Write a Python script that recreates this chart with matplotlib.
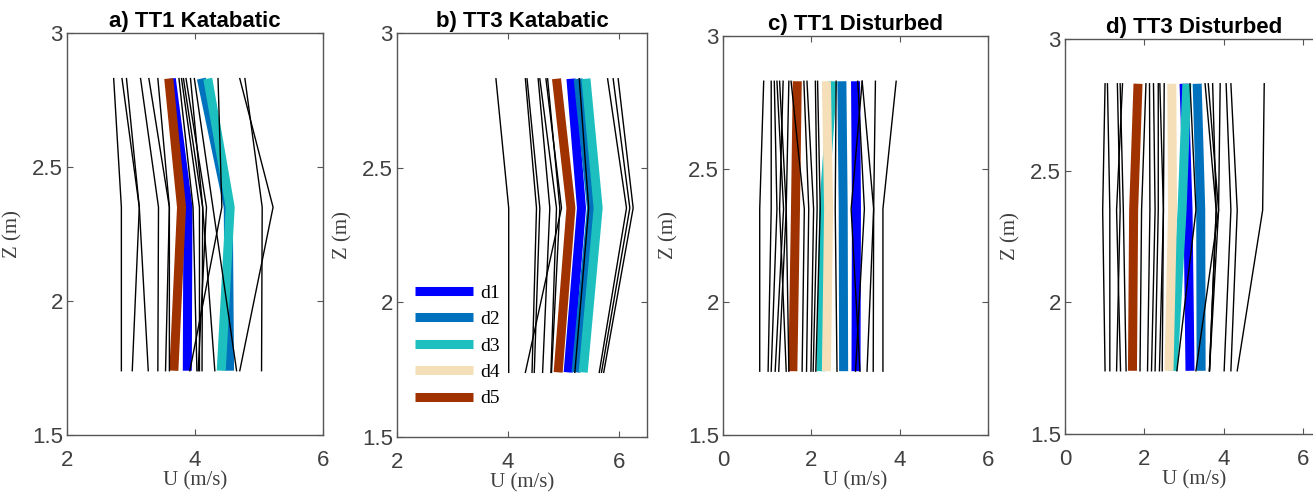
import matplotlib
matplotlib.use("Agg")
import matplotlib.pyplot as plt
from matplotlib.lines import Line2D

# measurement heights (m)
z = [1.74, 2.35, 2.83]

# day labels and colours of the highlighted profiles
days = ['d1', 'd2', 'd3', 'd4', 'd5']
day_colors = ['#0000ff', '#0072bd', '#1ebfbf', '#f5dfb8', '#a03200']

# wind speed profiles U(z), values at z[0], z[1], z[2]
a_runs = [[2.85, 2.85, 2.73], [3.02, 3.13, 2.86], [3.27, 3.13, 2.93],
          [3.42, 3.43, 3.15], [3.54, 3.60, 3.28], [3.60, 3.60, 3.42],
          [4.03, 3.97, 3.75], [4.07, 4.07, 3.79], [4.11, 4.12, 3.82],
          [4.05, 4.18, 3.86], [4.31, 4.12, 3.93], [3.92, 4.42, 4.36],
          [4.65, 4.28, 3.99], [4.70, 5.22, 4.70], [5.04, 5.05, 4.78]]
a_days = [[3.88, 3.89, 3.63], [4.54, 4.52, 4.10], [4.41, 4.55, 4.20],
          None, [3.67, 3.79, 3.59]]

b_runs = [[4.01, 4.01, 3.78], [4.43, 4.51, 4.31], [4.47, 4.57, 4.34],
          [4.62, 4.75, 4.54], [4.77, 4.87, 4.57], [4.31, 4.96, 4.68],
          [4.78, 4.93, 4.71], [5.20, 5.45, 5.28], [5.64, 6.13, 5.79],
          [5.68, 6.19, 5.89], [5.72, 6.25, 5.98]]
b_days = [[5.08, 5.32, 5.13], [5.22, 5.50, 5.26], [5.35, 5.62, 5.40],
          None, [4.90, 5.13, 4.87]]

c_runs = [[0.83, 0.83, 0.92], [1.02, 1.09, 1.09], [1.09, 1.22, 1.16],
          [1.18, 1.37, 1.22], [1.26, 1.43, 1.28], [1.43, 1.28, 1.36],
          [1.49, 1.43, 1.49], [1.79, 1.84, 1.54], [1.89, 1.94, 1.83],
          [1.99, 2.05, 1.90], [2.04, 2.13, 2.09], [2.10, 2.20, 2.14],
          [2.58, 2.54, 2.56], [3.10, 2.90, 3.15], [3.00, 3.20, 3.05],
          [3.26, 3.41, 3.15], [3.40, 3.41, 3.45], [3.62, 3.62, 3.92]]
c_days = [[3.01, 3.02, 3.00], [2.73, 2.72, 2.69], [2.22, 2.28, 2.48],
          [2.34, 2.39, 2.34], [1.58, 1.64, 1.68]]

d_runs = [[1.01, 0.95, 1.01], [1.13, 1.13, 1.07], [1.30, 1.39, 1.32],
          [1.54, 1.47, 1.39], [1.40, 1.30, 1.45], [1.89, 1.93, 2.04],
          [2.08, 2.14, 2.13], [2.18, 2.27, 2.23], [2.27, 2.35, 2.35],
          [2.38, 2.48, 2.39], [2.45, 2.48, 2.50], [2.82, 3.30, 3.15],
          [3.64, 3.81, 3.53], [3.30, 3.87, 3.61], [3.64, 3.81, 3.72],
          [3.64, 3.87, 3.91], [4.01, 4.18, 4.06], [4.18, 4.34, 4.18],
          [4.34, 4.98, 5.02]]
d_days = [[3.15, 3.10, 3.00], [3.43, 3.42, 3.33], [2.72, 2.95, 3.07],
          [2.62, 2.71, 2.69], [1.70, 1.73, 1.84]]

titles = ['a) TT1 Katabatic', 'b) TT3 Katabatic',
          'c) TT1 Disturbed', 'd) TT3 Disturbed']
xlims = [(2, 6), (2, 6.5), (0, 6), (0, 6.5)]
xticks = [[2, 4, 6], [2, 4, 6], [0, 2, 4, 6], [0, 2, 4, 6]]

# axes boxes in figure fractions
boxes = [[0.0510, 0.1176, 0.1950, 0.8154],
         [0.3024, 0.1136, 0.1904, 0.8195],
         [0.5507, 0.1176, 0.2018, 0.8093],
         [0.8111, 0.1197, 0.1965, 0.8012]]

GREY = '#404040'
SANS = 'Liberation Sans'
SERIF = 'Liberation Serif'

fig = plt.figure(figsize=(13.13, 4.93), dpi=100)

panels = [(a_runs, a_days), (b_runs, b_days), (c_runs, c_days), (d_runs, d_days)]
for i, (runs, dprof) in enumerate(panels):
    ax = fig.add_axes(boxes[i])
    for k, prof in enumerate(dprof):
        if prof is None:
            continue
        ax.plot(prof, z, color=day_colors[k], lw=6.5, zorder=2,
                solid_capstyle='butt')
    for prof in runs:
        ax.plot(prof, z, color='black', lw=1.0, zorder=3)

    ax.set_xlim(*xlims[i])
    ax.set_ylim(1.5, 3)
    ax.set_xticks(xticks[i])
    ax.set_yticks([1.5, 2, 2.5, 3])
    ax.set_yticklabels(['1.5', '2', '2.5', '3'])
    ax.tick_params(direction='in', length=4, width=0.8, top=True, right=True,
                   colors='#555555', labelcolor=GREY, labelsize=16)
    ax.tick_params(axis='x', pad=11)
    ax.tick_params(axis='y', pad=3)
    for lab in ax.get_xticklabels() + ax.get_yticklabels():
        lab.set_fontfamily(SANS)
    for sp in ax.spines.values():
        sp.set_color('#555555')
        sp.set_linewidth(1.0)
    ax.set_title(titles[i], fontsize=16, fontweight='bold', family=SANS,
                 pad=4)
    ax.set_xlabel('U (m/s)', fontsize=15, family=SERIF, color=GREY,
                  labelpad=0)
    ax.set_ylabel('Z (m)', fontsize=15, family=SERIF, color=GREY,
                  labelpad=7)

    if i == 1:
        handles = [Line2D([], [], color=c, lw=6.5, solid_capstyle='butt')
                   for c in day_colors]
        ax.legend(handles, days, loc='lower left', bbox_to_anchor=(0.0, 0.03),
                  frameon=False, prop={'family': SERIF, 'size': 14},
                  handlelength=3.0, handletextpad=0.4, labelspacing=0.45)

fig.savefig('out.png', dpi=100)
